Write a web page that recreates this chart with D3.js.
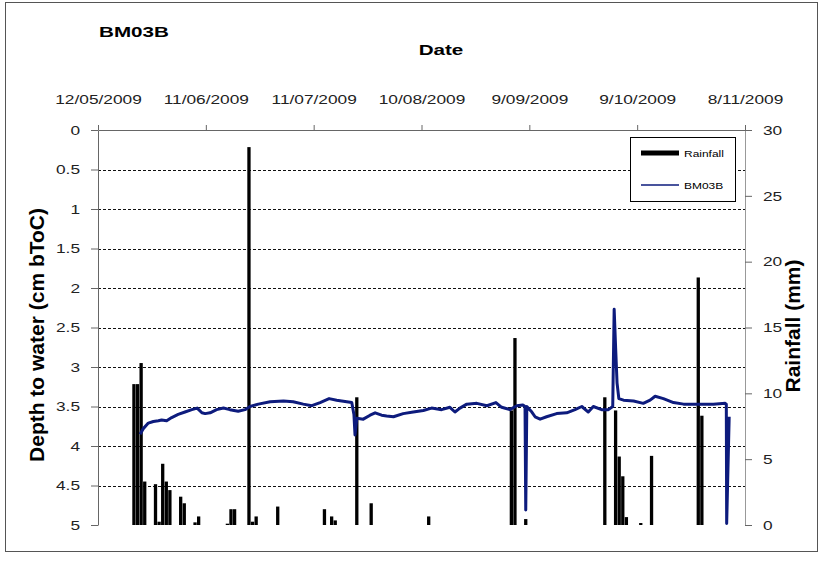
<!DOCTYPE html>
<html>
<head>
<meta charset="utf-8">
<script src="https://cdn.jsdelivr.net/npm/d3@7"></script>
<style>
  body { margin: 0; background: #fff; }
  svg { font-family: 'Liberation Sans', Arial, sans-serif; }
</style>
</head>
<body>
<div id="chart"></div>
<script>
(function() {

  // days counted from 12/05/2009
  const startDate = new Date(2009, 4, 12);
  const tickDays = [0, 30, 60, 90, 120, 150, 180];
  const tickLabels = ['12/05/2009', '11/06/2009', '11/07/2009', '10/08/2009', '9/09/2009', '9/10/2009', '8/11/2009'];
  const depthTicks = [0, 0.5, 1, 1.5, 2, 2.5, 3, 3.5, 4, 4.5, 5];
  const rainTicks = [0, 5, 10, 15, 20, 25, 30];

  // daily rainfall (mm)
  const rainDays = [10, 11, 12, 13, 16, 17, 18, 19, 20, 23, 24, 27, 28, 36, 37, 38, 42, 43, 44, 50,
    63, 65, 66, 72, 76, 92, 115, 116, 119, 141, 144, 145, 146, 147, 151, 154, 167, 168];
  const rainMm = [10.7, 10.7, 12.3, 3.3, 3.1, 0.25, 4.65, 3.3, 2.65, 2.15, 1.65, 0.2, 0.65, 0.1, 1.2, 1.2, 28.7, 0.25, 0.65, 1.4,
    1.2, 0.65, 0.35, 9.7, 1.65, 0.65, 8.7, 14.2, 0.45, 9.7, 8.7, 5.2, 3.7, 0.6, 0.15, 5.25, 18.8, 8.3];

  // BM03B depth to water (cm bToC)
  const levelDays = [11.7, 12.6, 14.0, 15.4, 16.8, 17.7, 19.1, 20.5, 22.3, 24.2, 26.1, 27.6, 28.9, 29.8, 31.2,
    33.0, 34.9, 36.7, 39.0, 40.9, 42.3, 44.6, 47.9, 51.6, 54.3, 57.1, 59.5, 61.8, 64.3, 66.4, 69.2, 70.6,
    71.2, 71.5, 72.0, 73.8, 75.7, 77.1, 78.9, 80.3, 82.2, 84.9, 87.7, 90.5, 92.8, 95.6, 97.9, 99.3, 100.7,
    102.6, 105.4, 108.2, 110.7, 112.3, 114.6, 116.5, 118.2, 118.8, 119.0, 119.3, 120.7, 121.6, 123.0, 124.8,
    127.6, 130.4, 132.7, 134.6, 136.4, 137.8, 140.1, 142.0, 143.2, 143.6, 144.0, 144.4, 144.9, 146.2, 149.0, 151.7,
    153.6, 155.0, 157.3, 160.1, 162.9, 165.6, 168.4, 171.2, 174.5, 174.8, 174.9, 175.6];
  const levelDepth = [3.85, 3.78, 3.71, 3.69, 3.68, 3.67, 3.68, 3.64, 3.60, 3.57, 3.54, 3.52, 3.58, 3.59, 3.58,
    3.54, 3.52, 3.54, 3.56, 3.54, 3.50, 3.47, 3.44, 3.43, 3.44, 3.47, 3.49, 3.45, 3.40, 3.42, 3.44, 3.45,
    3.60, 3.86, 3.65, 3.66, 3.61, 3.58, 3.61, 3.62, 3.63, 3.59, 3.57, 3.55, 3.52, 3.54, 3.51, 3.57, 3.52,
    3.47, 3.46, 3.49, 3.45, 3.51, 3.54, 3.49, 3.48, 3.50, 4.81, 3.50, 3.57, 3.63, 3.66, 3.63,
    3.59, 3.58, 3.54, 3.50, 3.57, 3.50, 3.54, 3.54, 3.50, 2.27, 2.75, 3.20, 3.40, 3.42, 3.43, 3.46,
    3.42, 3.37, 3.40, 3.45, 3.47, 3.47, 3.47, 3.47, 3.46, 3.47, 4.98, 3.63];

  const width = 818, height = 565;
  const plot = { left: 98, right: 745, top: 130, bottom: 525 };
  const stretchX = 1.33;
  const navy = '#0d1b7d';

  const dayToDate = d => new Date(startDate.getTime() + d * 864e5);

  const svg = d3.select('#chart').append('svg')
    .attr('width', width)
    .attr('height', height);

  // widen horizontal texts like the source picture
  function stretch(sel) {
    sel.each(function() {
      const len = this.getComputedTextLength();
      d3.select(this)
        .attr('textLength', len * stretchX)
        .attr('lengthAdjust', 'spacingAndGlyphs');
    });
  }

  svg.append('rect')
    .attr('x', 5.5).attr('y', 2.5)
    .attr('width', 812).attr('height', 549)
    .attr('fill', 'none')
    .attr('stroke', '#555');

  const x = d3.scaleTime()
    .domain([dayToDate(0), dayToDate(180)])
    .range([plot.left, plot.right]);
  const yDepth = d3.scaleLinear()
    .domain([0, 5])
    .range([plot.top, plot.bottom]);
  const yRain = d3.scaleLinear()
    .domain([0, 30])
    .range([plot.bottom, plot.top]);

  // gridlines
  svg.append('g')
    .selectAll('line')
    .data(depthTicks.filter(d => d > 0 && d < 5))
    .enter().append('line')
      .attr('x1', plot.left).attr('x2', plot.right)
      .attr('y1', d => Math.round(yDepth(d)) + 0.5)
      .attr('y2', d => Math.round(yDepth(d)) + 0.5)
      .attr('stroke', '#111')
      .attr('stroke-dasharray', '3,2');

  // rainfall bars
  const rain = rainDays.map((d, i) => ({ date: dayToDate(d), mm: rainMm[i] }));
  const barW = 3.3;
  svg.append('g')
    .selectAll('rect')
    .data(rain)
    .enter().append('rect')
      .attr('x', d => x(d.date) - barW / 2)
      .attr('y', d => yRain(d.mm))
      .attr('width', barW)
      .attr('height', d => yRain(0) - yRain(d.mm))
      .attr('fill', '#000');

  // water level line
  const level = levelDays.map((d, i) => ({ date: dayToDate(d), depth: levelDepth[i] }));
  const valueLine = d3.line()
    .x(d => x(d.date))
    .y(d => yDepth(d.depth));
  svg.append('path')
    .datum(level)
    .attr('d', valueLine)
    .attr('fill', 'none')
    .attr('stroke', navy)
    .attr('stroke-width', 3)
    .attr('stroke-linejoin', 'round');

  // axes
  const topAxis = svg.append('g')
    .attr('transform', `translate(0, ${plot.top})`)
    .call(d3.axisTop(x)
      .tickValues(tickDays.map(dayToDate))
      .tickFormat((d, i) => tickLabels[i])
      .tickSize(5)
      .tickSizeOuter(0)
      .tickPadding(21));
  const leftAxis = svg.append('g')
    .attr('transform', `translate(${plot.left}, 0)`)
    .call(d3.axisLeft(yDepth)
      .tickValues(depthTicks)
      .tickFormat(d => String(d))
      .tickSize(7)
      .tickSizeOuter(0)
      .tickPadding(11));
  const rightAxis = svg.append('g')
    .attr('transform', `translate(${plot.right}, 0)`)
    .call(d3.axisRight(yRain)
      .tickValues(rainTicks)
      .tickSize(7)
      .tickSizeOuter(0)
      .tickPadding(11));

  [topAxis, leftAxis, rightAxis].forEach(ax => {
    ax.selectAll('path, line').attr('stroke', '#666');
    ax.selectAll('text')
      .attr('font-size', 13)
      .attr('font-family', "'Liberation Sans', Arial, sans-serif")
      .attr('fill', '#222')
      .call(stretch);
  });
  rightAxis.select('.domain').attr('stroke', '#999');

  // titles
  svg.append('text')
    .attr('x', 99).attr('y', 37)
    .attr('font-size', 15.5).attr('font-weight', 'bold')
    .text('BM03B')
    .call(stretch);
  svg.append('text')
    .attr('x', 441).attr('y', 55)
    .attr('text-anchor', 'middle')
    .attr('font-size', 15.5).attr('font-weight', 'bold')
    .text('Date')
    .call(stretch);
  svg.append('text')
    .attr('transform', 'translate(44, 335) rotate(-90)')
    .attr('text-anchor', 'middle')
    .attr('font-size', 21).attr('font-weight', 'bold')
    .text('Depth to water (cm bToC)');
  svg.append('text')
    .attr('transform', 'translate(800, 326) rotate(-90)')
    .attr('text-anchor', 'middle')
    .attr('font-size', 21).attr('font-weight', 'bold')
    .text('Rainfall (mm)');

  // legend
  const legend = svg.append('g');
  legend.append('rect')
    .attr('x', 630.5).attr('y', 137.5)
    .attr('width', 105).attr('height', 64)
    .attr('fill', '#fff')
    .attr('stroke', '#000');
  legend.append('line')
    .attr('x1', 641).attr('x2', 679)
    .attr('y1', 153).attr('y2', 153)
    .attr('stroke', '#000').attr('stroke-width', 5);
  legend.append('line')
    .attr('x1', 641).attr('x2', 679)
    .attr('y1', 185).attr('y2', 185)
    .attr('stroke', navy).attr('stroke-width', 1.5);
  legend.append('text')
    .attr('x', 684).attr('y', 156.5)
    .attr('font-size', 9)
    .text('Rainfall')
    .call(stretch);
  legend.append('text')
    .attr('x', 684).attr('y', 188.5)
    .attr('font-size', 9)
    .text('BM03B')
    .call(stretch);
}());
</script>
</body>
</html>
